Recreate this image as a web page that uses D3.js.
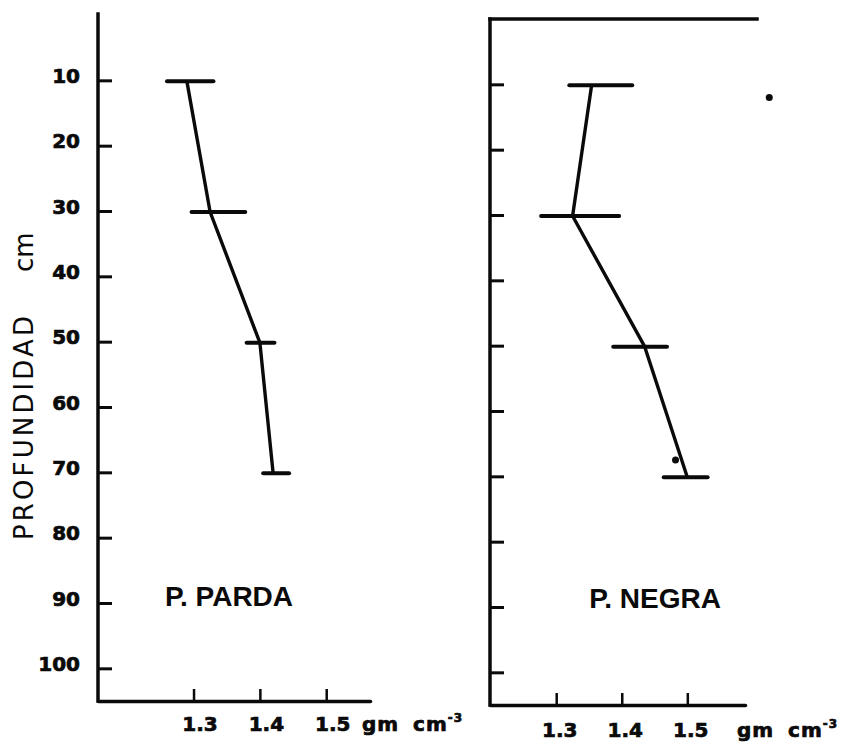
<!DOCTYPE html>
<html>
<head>
<meta charset="utf-8">
<script src="https://cdn.jsdelivr.net/npm/d3@7"></script>
<style>
    html, body { margin: 0; padding: 0; background: #fff; }
    svg { display: block; }
</style>
</head>
<body>
<div id="chart"></div>
<script>
"use strict";

// depth of each sample, cm
const DEPTHS = [10, 30, 50, 70];

// P. PARDA: bulk density and the ends of its bar, gm cm-3
const PARDA_MEAN = [1.29, 1.325, 1.4, 1.42];
const PARDA_LOW = [1.26, 1.297, 1.38, 1.405];
const PARDA_HIGH = [1.33, 1.378, 1.422, 1.444];

// P. NEGRA
const NEGRA_MEAN = [1.354, 1.325, 1.435, 1.5];
const NEGRA_LOW = [1.32, 1.277, 1.387, 1.464];
const NEGRA_HIGH = [1.416, 1.396, 1.469, 1.531];

// loose dots on the right sheet
const NEGRA_DOTS = [
    { density: 1.482, depth: 67.5 },
    { density: 1.625, depth: 12 }
];

const DEPTH_TICKS = [10, 20, 30, 40, 50, 60, 70, 80, 90, 100];
const DENSITY_TICKS = [1.3, 1.4, 1.5];
const DENSITY_TICK_LABELS = ["1.3", "1.4", "1.5"];

const Y_TITLE = "PROFUNDIDAD";
const Y_UNIT = "cm";
const X_UNIT = "gm cm";
const X_UNIT_EXP = "-3";

const INK = "#0a0a0a";
const FONT = "'DejaVu Sans', sans-serif";
const LABEL_FONT = "'Liberation Sans', Arial, sans-serif";

const panels = [
    {
        name: "P. PARDA",
        mean: PARDA_MEAN,
        low: PARDA_LOW,
        high: PARDA_HIGH,
        dots: [],
        x0: 98,
        x1: 370,
        xDomain: [1.156, 1.566],
        yRange: [15, 701],
        axisTop: 14,
        frame: false,
        depthLabels: true,
        tickLabelShift: 6,
        tickLabelY: 30,
        unitX: 362,
        nameX: 229,
        nameY: 606
    },
    {
        name: "P. NEGRA",
        mean: NEGRA_MEAN,
        low: NEGRA_LOW,
        high: NEGRA_HIGH,
        dots: NEGRA_DOTS,
        x0: 490,
        x1: 745,
        xDomain: [1.199, 1.588],
        yRange: [19, 705],
        axisTop: 19,
        frame: true,
        frameEnd: 757,
        depthLabels: false,
        tickLabelShift: 3,
        tickLabelY: 32,
        unitX: 737,
        nameX: 655,
        nameY: 608
    }
];

const svg = d3
    .select("#chart")
    .append("svg")
    .attr("width", 847)
    .attr("height", 746);

svg.append("rect")
    .attr("width", 847)
    .attr("height", 746)
    .attr("fill", "#fff");

/**
 * Gives hand-lettered text a heavier stroke.
 *
 * @param {Selection} sel - d3 text selection
 * @param {number} size - font size in px
 * @returns {Selection} the same selection
 */
const inked = (sel, size) =>
    sel
        .attr("fill", INK)
        .attr("stroke", INK)
        .attr("stroke-width", 0.7)
        .attr("font-family", FONT)
        .attr("font-weight", "bold")
        .attr("font-size", size);

/**
 * Draws one sheet: axes, the density profile with its bars, and the name.
 *
 * @param {object} p - panel settings
 * @returns {undefined}
 */
const drawPanel = (p) => {
    const x = d3.scaleLinear().domain(p.xDomain).range([p.x0, p.x1]);
    const y = d3.scaleLinear().domain([0, 105]).range(p.yRange);
    const bottom = p.yRange[1];
    const g = svg.append("g");

    // depth axis, ticks pointing into the plot
    const yAxis = d3
        .axisLeft(y)
        .tickValues(DEPTH_TICKS)
        .tickSizeInner(-14)
        .tickSizeOuter(0)
        .tickPadding(18)
        .tickFormat((d) => (p.depthLabels ? d : ""));
    const yG = g
        .append("g")
        .attr("transform", `translate(${p.x0},0)`)
        .call(yAxis);
    yG.select(".domain").remove();
    yG.selectAll(".tick line")
        .attr("stroke", INK)
        .attr("stroke-width", 3);
    inked(yG.selectAll(".tick text").attr("dy", "0.1em"), 20);

    g.append("line")
        .attr("x1", p.x0)
        .attr("x2", p.x0)
        .attr("y1", p.axisTop)
        .attr("y2", bottom)
        .attr("stroke", INK)
        .attr("stroke-width", 3.5)
        .attr("stroke-linecap", "square");

    if (p.frame) {
        g.append("line")
            .attr("x1", p.x0)
            .attr("x2", p.frameEnd)
            .attr("y1", p.axisTop)
            .attr("y2", p.axisTop)
            .attr("stroke", INK)
            .attr("stroke-width", 3.5)
            .attr("stroke-linecap", "square");
    }

    // density axis
    const xAxis = d3
        .axisBottom(x)
        .tickValues(DENSITY_TICKS)
        .tickSizeInner(-12)
        .tickSizeOuter(0)
        .tickFormat((d, i) => DENSITY_TICK_LABELS[i]);
    const xG = g
        .append("g")
        .attr("transform", `translate(0,${bottom})`)
        .call(xAxis);
    xG.select(".domain")
        .attr("stroke", INK)
        .attr("stroke-width", 3.5)
        .attr("stroke-linecap", "round");
    xG.selectAll(".tick line")
        .attr("stroke", INK)
        .attr("stroke-width", 2.5);
    inked(
        xG
            .selectAll(".tick text")
            .attr("y", p.tickLabelY)
            .attr("dy", 0)
            .attr("dx", p.tickLabelShift),
        20
    );

    const unit = inked(
        g
            .append("text")
            .attr("x", p.unitX)
            .attr("y", bottom + p.tickLabelY)
            .attr("word-spacing", 6)
            .attr("letter-spacing", 1),
        20
    ).text(X_UNIT);
    unit.append("tspan")
        .attr("dy", -9)
        .attr("font-size", 12)
        .text(X_UNIT_EXP);

    // error bars
    g.selectAll("line.bar")
        .data(DEPTHS)
        .enter()
        .append("line")
        .attr("class", "bar")
        .attr("x1", (d, i) => x(p.low[i]))
        .attr("x2", (d, i) => x(p.high[i]))
        .attr("y1", (d) => y(d) + 1)
        .attr("y2", (d) => y(d) + 1)
        .attr("stroke", INK)
        .attr("stroke-width", 4)
        .attr("stroke-linecap", "round");

    // profile
    const line = d3
        .line()
        .x((d, i) => x(p.mean[i]))
        .y((d) => y(d) + 1);
    g.append("path")
        .datum(DEPTHS)
        .attr("d", line)
        .attr("fill", "none")
        .attr("stroke", INK)
        .attr("stroke-width", 3.4)
        .attr("stroke-linejoin", "round");

    g.selectAll("circle.dot")
        .data(p.dots)
        .enter()
        .append("circle")
        .attr("class", "dot")
        .attr("cx", (d) => x(d.density))
        .attr("cy", (d) => y(d.depth))
        .attr("r", 3.5)
        .attr("fill", INK);

    g.append("text")
        .attr("x", p.nameX)
        .attr("y", p.nameY)
        .attr("text-anchor", "middle")
        .attr("fill", INK)
        .attr("font-family", LABEL_FONT)
        .attr("font-weight", "bold")
        .attr("font-size", 28)
        .text(p.name);
};

panels.forEach(drawPanel);

// depth title, written up the left edge
const title = svg
    .append("g")
    .attr("transform", "translate(33,540) rotate(-90)")
    .attr("fill", INK)
    .attr("font-family", FONT)
    .attr("font-size", 26);
title.append("text")
    .attr("x", 0)
    .attr("textLength", 224)
    .attr("lengthAdjust", "spacing")
    .text(Y_TITLE);
title.append("text")
    .attr("x", 268)
    .text(Y_UNIT);
</script>
</body>
</html>
